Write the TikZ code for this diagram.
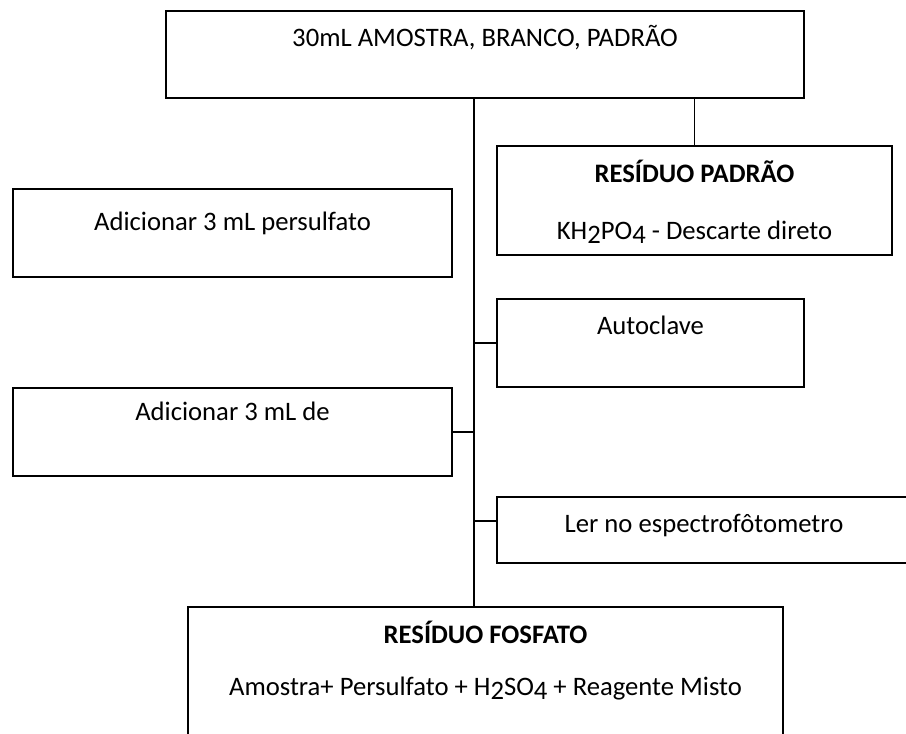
\documentclass[tikz,border=0pt]{standalone}
\usepackage{fontspec}
\setmainfont{Carlito}
\usetikzlibrary{fit}
\newcommand{\lowdig}[1]{\raisebox{-0.16em}{#1}}
\begin{document}
\begin{tikzpicture}[x=0.75pt,y=-0.75pt, line width=0.9pt,
  box/.style={draw, rectangle, inner sep=0pt},
  lbl/.style={anchor=base, inner sep=0pt, font=\fontsize{20}{24}\selectfont},
  blbl/.style={anchor=base, inner sep=0pt, font=\fontsize{20}{24}\selectfont\bfseries}]
\useasboundingbox (0,0) rectangle (906,733);
\clip (0,0) rectangle (906,733);
% boxes
\node[box, fit={(166,11) (804,98)}] (top) {};
\node[box, fit={(497,146) (892,255)}] (padrao) {};
\node[box, fit={(13,189) (452,277)}] (pers) {};
\node[box, fit={(497,299) (804,387)}] (auto) {};
\node[box, fit={(13,388) (452,476)}] (adde) {};
\node[box, fit={(497,497) (915,563)}] (ler) {};
\node[box, fit={(188,607) (783,760)}] (fosf) {};
% texts
\node[lbl] (ttop) at (485,46) {30mL AMOSTRA, BRANCO, PADRÃO};
\node[blbl] (tpad1) at (694.5,182) {RESÍDUO PADRÃO};
\node[lbl] (tpad2) at (694.5,239) {KH\lowdig{2}PO\lowdig{4} - Descarte direto};
\node[lbl] (tpers) at (232.5,230) {Adicionar 3 mL persulfato};
\node[lbl] (tauto) at (650.5,334) {Autoclave};
\node[lbl] (tadde) at (232.5,420) {Adicionar 3 mL de};
\node[lbl] (tler) at (704,532) {Ler no espectrofôtometro};
\node[blbl] (tfos1) at (485.5,643) {RESÍDUO FOSFATO};
\node[lbl] (tfos2) at (485.5,695) {Amostra+ Persulfato + H\lowdig{2}SO\lowdig{4} + Reagente Misto};
% connectors
\coordinate (mx) at (474,0);
\coordinate (lerj) at (474,521);
\draw (top.south -| mx) -- (fosf.north -| mx);
\draw (top.south -| padrao.north) -- (padrao.north);
\draw (auto.west -| mx) -- (auto.west);
\draw (adde.east) -- (adde.east -| mx);
\draw (lerj) -- (lerj -| ler.west);
\end{tikzpicture}
\end{document}
